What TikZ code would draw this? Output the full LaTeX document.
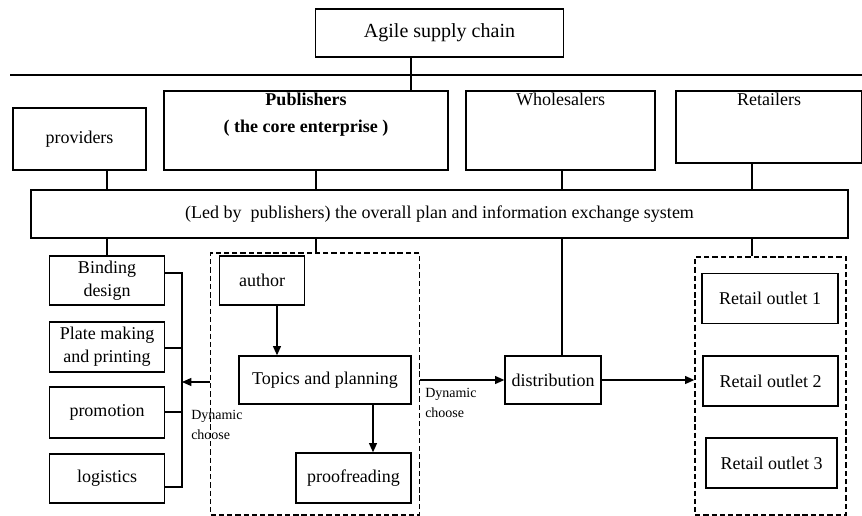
\documentclass[tikz,border=0pt]{standalone}
\usepackage{fontspec}
\setmainfont{Liberation Serif}
\usetikzlibrary{arrows.meta}
\begin{document}
\begin{tikzpicture}[x=0.75pt,y=-0.75pt,
  box/.style={draw,line width=1pt,inner sep=0pt,align=center,font=\fontsize{13.5}{17}\selectfont},
  dbox/.style={draw,line width=1pt,dash pattern=on 4pt off 2.2pt,inner sep=0pt},
  conn/.style={line width=1pt},
  arr/.style={line width=1pt,-{Triangle[length=7pt,width=6pt]}},
  small/.style={font=\fontsize{10.5}{15}\selectfont,align=left,inner sep=0pt,anchor=north west}]
\useasboundingbox (0,0) rectangle (862,516);
% top
\node[box,minimum width=248*0.75pt,minimum height=48*0.75pt,font=\fontsize{15}{18}\selectfont] (agile) at (439.5,33) {Agile supply chain};
\coordinate (hl) at (10,75);
\coordinate (hr) at (862,75);
\draw[conn] (hl) -- (hr);
% second row
\node[box,minimum width=133*0.75pt,minimum height=62*0.75pt] (prov) at (79.5,139) {providers};
\node[box,minimum width=284*0.75pt,minimum height=79*0.75pt] (pub) at (306,130.5) {\textbf{Publishers}\\[3pt]\textbf{( the core enterprise )}\\[10pt]};
\node[box,minimum width=189*0.75pt,minimum height=79*0.75pt] (whole) at (560.5,130.5) {Wholesalers\\[3pt]\mbox{}\\[10pt]};
\node[box,minimum width=186*0.75pt,minimum height=72*0.75pt] (ret) at (769,127) {Retailers\\[3pt]\mbox{}\\[4pt]};
\coordinate (xa) at (411,0);
\draw[conn] (agile.south -| xa) -- (pub.north -| xa);
% system
\node[box,minimum width=817*0.75pt,minimum height=48*0.75pt] (sys) at (439.5,214) {(Led by\ \ publishers) the overall plan and information exchange system};
\coordinate (c1) at (107,0);
\coordinate (c2) at (316,0);
\coordinate (c3) at (562,0);
\coordinate (c4) at (752,0);
\draw[conn] (prov.south -| c1) -- (sys.north -| c1);
\draw[conn] (pub.south -| c2) -- (sys.north -| c2);
\draw[conn] (whole.south -| c3) -- (sys.north -| c3);
\draw[conn] (ret.south -| c4) -- (sys.north -| c4);
% left column
\node[box,minimum width=115*0.75pt,minimum height=49*0.75pt] (bind) at (107,280.5) {Binding\\design};
\node[box,minimum width=115*0.75pt,minimum height=50*0.75pt] (plate) at (107,347) {Plate making\\and printing};
\node[box,minimum width=115*0.75pt,minimum height=51*0.75pt] (promo) at (107,412.5) {promotion};
\node[box,minimum width=115*0.75pt,minimum height=49*0.75pt] (logi) at (107,478.5) {logistics};
\draw[conn] (sys.south -| c1) -- (bind.north -| c1);
\coordinate (bx) at (182,0);
\coordinate (b1) at (0,273);
\coordinate (b2) at (0,348);
\coordinate (b3) at (0,412);
\coordinate (b4) at (0,487);
\draw[conn] (bind.east |- b1) -- (bx |- b1) -- (bx |- b4) -- (logi.east |- b4);
\draw[conn] (plate.east |- b2) -- (bx |- b2);
\draw[conn] (promo.east |- b3) -- (bx |- b3);
% publisher internal
\node[dbox,minimum width=209*0.75pt,minimum height=262*0.75pt] (d1) at (315,384) {};
\draw[conn] (sys.south -| c2) -- (d1.north -| c2);
\node[box,minimum width=85*0.75pt,minimum height=49*0.75pt] (author) at (262,280.5) {author};
\node[box,minimum width=172*0.75pt,minimum height=48*0.75pt] (topics) at (325,380) {Topics and planning};
\node[box,minimum width=115*0.75pt,minimum height=50*0.75pt] (proof) at (353.5,478) {proofreading};
\coordinate (ya) at (0,382);
\draw[arr] (d1.west |- ya) -- (bx |- ya);
\node[small] (dc1) at (191,410) {Dynamic\\choose};
\coordinate (xauth) at (277,0);
\draw[arr] (author.south -| xauth) -- (topics.north -| xauth);
\coordinate (xtop) at (373,0);
\draw[arr] (topics.south -| xtop) -- (proof.north -| xtop);
% distribution
\node[box,minimum width=96*0.75pt,minimum height=48*0.75pt] (distr) at (553,380) {distribution};
\draw[conn] (sys.south -| c3) -- (distr.north -| c3);
\coordinate (yb) at (0,380);
\draw[arr] (d1.east |- yb) -- (distr.west |- yb);
\node[small] (dc2) at (425,388) {Dynamic\\choose};
% retail outlets
\node[dbox,minimum width=151*0.75pt,minimum height=258*0.75pt] (d2) at (770.5,386) {};
\draw[conn] (sys.south -| c4) -- (d2.north -| c4);
\draw[arr] (distr.east |- yb) -- (d2.west |- yb);
\node[box,minimum width=136*0.75pt,minimum height=50*0.75pt] (r1) at (770,298.5) {Retail outlet 1};
\node[box,minimum width=135*0.75pt,minimum height=50*0.75pt] (r2) at (770.5,381) {Retail outlet 2};
\node[box,minimum width=131*0.75pt,minimum height=50*0.75pt] (r3) at (771.5,463) {Retail outlet 3};
\end{tikzpicture}
\end{document}
